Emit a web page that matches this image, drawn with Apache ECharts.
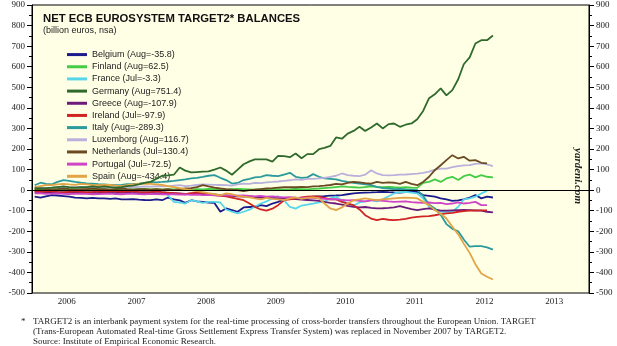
<!DOCTYPE html>
<html>
<head>
<meta charset="utf-8">
<script src="https://cdn.jsdelivr.net/npm/echarts@6/dist/echarts.min.js"></script>
<style>
  html, body { margin: 0; padding: 0; background: #fff; }
  #chart { width: 617px; height: 346px; }
</style>
</head>
<body>
<div id="chart"></div>
<script>
// monthly observations, Jan 2006 .. Aug 2012 (some end in Jul 2012)
const months = [];
for (let y = 2006; y <= 2012; y++) {
    for (let m = 1; m <= 12; m++) {
        if (y === 2012 && m > 8) break;
        months.push(y + '-' + String(m).padStart(2, '0') + '-15');
    }
}
const years = ['2006', '2007', '2008', '2009', '2010', '2011', '2012', '2013'];

const belgium = [
    -32, -36, -30, -24, -26, -29, -32, -36, -38, -40, -38, -40,
    -40, -42, -40, -45, -45, -44, -46, -48, -49, -45, -49, -36,
    -45, -50, -62, -49, -55, -57, -60, -62, -105, -89, -97, -105,
    -84, -82, -81, -73, -78, -65, -57, -45, -40, -42, -40, -35,
    -32, -30, -29, -27, -26, -24, -20, -16, -13, -12, -11, -10,
    -8, -10, -11, -12, -10, -9, -8, -24, -28, -32, -40, -45,
    -52, -50, -45, -36, -24, -40, -32, -35.8
];
const finland = [
    3, 5, 4, 6, 5, 4, 6, 5, 3, 5, 6, 4,
    5, 4, 6, 5, 3, 4, 5, 6, 4, 5, 3, 5,
    4, 6, 5, 3, 5, 4, 6, 5, 4, 3, 5, 6,
    5, 4, 3, 5, 6, 4, 5, 3, 4, 6, 5, 4,
    6, 8, 10, 12, 15, 18, 16, 14, 12, 15, 18, 16,
    15, 16, 14, 12, 14, 12, 11, 36, 40, 52, 40, 57,
    65, 49, 68, 76, 62, 73, 65, 62.5
];
const france = [
    -5, -3, -4, -6, -5, -4, -6, -5, -4, -5, -6, -5,
    -4, -5, -6, -5, -4, -5, -6, -8, -5, -3, 0, -24,
    -57, -60, -65, -49, -55, -62, -57, -57, -60, -94, -105, -113,
    -105, -95, -81, -65, -55, -40, -30, -50, -81, -90, -75, -70,
    -65, -60, -55, -40, -32, -50, -65, -75, -60, -55, -49, -55,
    -45, -30, -16, -10, -8, -12, -16, -40, -81, -97, -105, -105,
    -105, -81, -45, -40, -32, -16, -3.3
];
const germany = [
    10, 8, 10, 12, 15, 18, 15, 12, 15, 15, 18, 15,
    18, 15, 12, 15, 20, 22, 28, 35, 40, 55, 70, 72,
    75, 110, 95, 86, 88, 90, 91, 100, 110, 95, 75, 100,
    126, 140, 150, 150, 150, 139, 167, 165, 160, 178, 155, 175,
    175, 199, 205, 215, 256, 250, 275, 288, 308, 288, 305, 324,
    300, 321, 324, 308, 318, 324, 345, 385, 447, 466, 495, 461,
    486, 539, 612, 645, 713, 729, 729, 751.4
];
const greece = [
    -10, -12, -11, -10, -12, -13, -12, -11, -12, -13, -12, -14,
    -13, -12, -14, -13, -12, -14, -15, -13, -14, -15, -16, -14,
    -15, -16, -18, -17, -18, -20, -22, -21, -24, -26, -28, -30,
    -32, -30, -34, -36, -35, -38, -40, -42, -40, -44, -46, -48,
    -50, -52, -57, -62, -65, -70, -76, -81, -84, -82, -86, -89,
    -88, -86, -84, -78, -85, -92, -97, -92, -89, -94, -100, -100,
    -98, -97, -96, -97, -98, -100, -105, -107.9
];
const ireland = [
    -5, -8, -6, -5, -8, -10, -8, -6, -8, -10, -8, -6,
    -8, -6, -5, -8, -6, -5, -8, -10, -8, -6, -10, -12,
    -15, -18, -20, -15, -12, -13, -20, -24, -28, -30, -36, -42,
    -49, -65, -81, -94, -100, -90, -73, -49, -45, -40, -35, -32,
    -30, -32, -38, -45, -45, -57, -65, -73, -94, -122, -138, -146,
    -140, -144, -146, -143, -140, -134, -130, -128, -126, -122, -117, -113,
    -110, -105, -102, -100, -100, -98, -97.9
];
const italy = [
    24, 36, 30, 28, 40, 49, 45, 40, 36, 33, 32, 29,
    28, 26, 24, 26, 29, 30, 32, 35, 40, 38, 40, 42,
    45, 49, 52, 57, 60, 65, 70, 73, 60, 49, 32, 35,
    49, 55, 62, 65, 73, 70, 68, 76, 84, 65, 60, 62,
    78, 65, 57, 55, 52, 45, 40, 35, 32, 28, 24, 16,
    10, 8, 5, 6, 4, 3, 0, -28, -70, -89, -120, -165,
    -188, -200, -240, -275, -272, -272, -278, -289.3
];
const luxembourg = [
    15, 12, 10, 12, 15, 14, 12, 15, 16, 14, 12, 15,
    14, 12, 15, 16, 15, 14, 16, 18, 17, 19, 18, 20,
    22, 24, 20, 22, 25, 28, 27, 26, 25, 24, 22, 28,
    32, 30, 35, 34, 38, 40, 42, 45, 48, 52, 50, 55,
    55, 57, 60, 65, 70, 81, 73, 70, 68, 75, 97, 81,
    73, 72, 73, 75, 76, 78, 80, 84, 90, 100, 105, 105,
    112, 117, 120, 122, 128, 130, 125, 116.7
];
const netherlands = [
    5, 8, 5, 3, 5, 8, 5, 3, 5, 5, 8, 5,
    5, 3, 5, 8, 5, 3, 5, 5, 3, 5, 3, 5,
    0, 5, 8, 10, 15, 24, 18, 12, 8, 5, 3, 0,
    -5, 0, 3, 5, 8, 10, 12, 14, 15, 14, 16, 15,
    18, 20, 22, 25, 30, 28, 35, 40, 38, 34, 32, 40,
    35, 38, 36, 30, 40, 30, 24, 40, 65, 97, 121, 146,
    170, 154, 162, 143, 146, 133, 130.4
];
const portugal = [
    -15, -16, -18, -17, -16, -18, -19, -18, -17, -18, -20, -19,
    -18, -17, -19, -20, -18, -17, -19, -20, -18, -19, -20, -21,
    -20, -22, -21, -23, -22, -24, -23, -25, -26, -24, -25, -27,
    -26, -28, -30, -28, -32, -30, -33, -35, -34, -36, -38, -37,
    -38, -40, -42, -45, -44, -48, -50, -49, -52, -55, -50, -49,
    -52, -55, -57, -56, -55, -58, -60, -62, -60, -63, -62, -68,
    -65, -60, -65, -62, -57, -73, -72.5
];
const spain = [
    15, 20, 24, 25, 28, 30, 28, 26, 30, 28, 25, 24,
    26, 25, 22, 20, 24, 28, 30, 32, 30, 28, 25, 20,
    15, 10, 5, 0, -5, -10, -15, -20, -25, -16, -20, -28,
    -32, -35, -40, -45, -38, -42, -45, -48, -40, -35, -42, -38,
    -35, -40, -65, -89, -97, -84, -65, -49, -45, -40, -45, -49,
    -45, -42, -40, -38, -36, -38, -40, -57, -73, -97, -115, -138,
    -178, -215, -260, -305, -360, -405, -421, -434.4
];

const countries = ['Belgium', 'Finland', 'France', 'Germany', 'Greece', 'Ireland',
    'Italy', 'Luxemborg', 'Netherlands', 'Portugal', 'Spain'];
const lastMonth = ['Aug', 'Aug', 'Jul', 'Aug', 'Aug', 'Jul', 'Aug', 'Aug', 'Jul', 'Jul', 'Aug'];
const values = [belgium, finland, france, germany, greece, ireland,
    italy, luxembourg, netherlands, portugal, spain];
const colors = ['#1b1b8e', '#44cc44', '#57d6ea', '#2f6a2c', '#6c1b7c', '#d02424',
    '#2a9a9c', '#b9b1dc', '#6b4a22', '#cf45c8', '#e2a446'];

const serif = '"Liberation Serif", "Times New Roman", serif';
const sans = '"Liberation Sans", Arial, sans-serif';

const labels = countries.map((c, i) => {
    const arr = values[i];
    return c + ' (' + lastMonth[i] + '=' + arr[arr.length - 1].toFixed(1) + ')';
});

const series = countries.map((c, i) => ({
    name: labels[i],
    type: 'line',
    xAxisIndex: 0,
    yAxisIndex: 0,
    symbol: 'none',
    smooth: false,
    z: i === 3 ? 4 : 3,
    lineStyle: { width: 1.8, color: colors[i] },
    itemStyle: { color: colors[i] },
    data: values[i].map((v, k) => [months[k], v])
}));

// black zero line
series[0].markLine = {
    silent: true,
    symbol: 'none',
    label: { show: false },
    lineStyle: { color: '#000', width: 1.2, type: 'solid' },
    data: [{ yAxis: 0 }]
};

const valueAxis = (pos) => ({
    type: 'value',
    position: pos,
    min: -500,
    max: 900,
    interval: 100,
    axisLine: { show: true, lineStyle: { color: '#000', width: 1 } },
    axisTick: { show: true, length: 5, lineStyle: { color: '#000' } },
    minorTick: { show: true, splitNumber: 2, length: 3, lineStyle: { color: '#000' } },
    splitLine: { show: false },
    axisLabel: { fontFamily: serif, fontSize: 9, color: '#222', margin: 7 }
});

const option = {
    animation: false,
    backgroundColor: '#fff',
    title: {
        text: 'NET ECB EUROSYSTEM TARGET2* BALANCES',
        subtext: '(billion euros, nsa)',
        left: 38,
        top: 8,
        itemGap: 2,
        textStyle: { fontFamily: sans, fontWeight: 'bold', fontSize: 11.3, color: '#111' },
        subtextStyle: { fontFamily: sans, fontSize: 9, color: '#222' }
    },
    legend: {
        orient: 'vertical',
        left: 62,
        top: 43.5,
        itemWidth: 20,
        itemHeight: 3,
        itemGap: 0,
        icon: 'rect',
        data: labels,
        textStyle: { fontFamily: sans, fontSize: 9, color: '#222', lineHeight: 12.17 }
    },
    grid: {
        left: 32,
        right: 28,
        top: 5,
        bottom: 53,
        show: true,
        backgroundColor: '#ffffe6',
        borderColor: '#000',
        borderWidth: 1
    },
    xAxis: [
        {
            type: 'time',
            min: '2006-01-01',
            max: '2014-01-01',
            show: false
        },
        {
            type: 'category',
            data: years,
            boundaryGap: true,
            position: 'bottom',
            axisLine: { lineStyle: { color: '#000' } },
            axisTick: { length: 8, lineStyle: { color: '#000' } },
            axisLabel: { fontFamily: serif, fontSize: 9, color: '#222', margin: 4 },
            splitLine: { show: false }
        }
    ],
    yAxis: [valueAxis('left'), valueAxis('right')],
    graphic: [
        {
            type: 'text',
            x: 578,
            y: 176,
            rotation: -Math.PI / 2,
            style: {
                text: 'yardeni.com',
                font: 'italic bold 11px ' + serif,
                fill: '#222',
                align: 'center',
                verticalAlign: 'middle'
            }
        },
        {
            type: 'text',
            left: 21,
            top: 317,
            style: { text: '*', font: '9px ' + serif, fill: '#222' }
        },
        {
            type: 'text',
            left: 33,
            top: 317,
            style: {
                text: 'TARGET2 is an interbank payment system for the real-time processing of cross-border transfers throughout the European Union. TARGET\n' +
                    '(Trans-European Automated Real-time Gross Settlement Express Transfer System) was replaced in November 2007 by TARGET2.\n' +
                    'Source: Institute of Empirical Economic Research.',
                font: '9px ' + serif,
                lineHeight: 9.7,
                fill: '#222'
            }
        }
    ],
    series: series
};

const chart = echarts.init(document.getElementById('chart'));
chart.setOption(option);
</script>
</body>
</html>
